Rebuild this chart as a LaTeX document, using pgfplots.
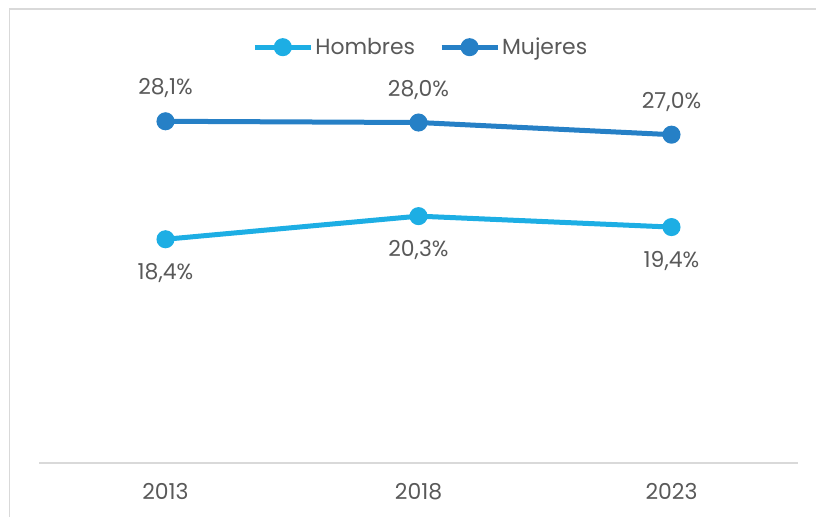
\documentclass[border=0pt]{standalone}
\usepackage{fontspec}
\setmainfont{Poppins}
\usepackage{pgfplots}
\pgfplotsset{compat=1.18}
\definecolor{hombres}{HTML}{1DAEE4}
\definecolor{mujeres}{HTML}{2680C6}
\definecolor{txt}{HTML}{595959}
\definecolor{grid}{HTML}{D9D9D9}
\begin{document}
\begin{tikzpicture}[x=1bp,y=1bp]
\useasboundingbox (-39,-54) rectangle (777,463);
\draw[grid,line width=1.5bp] (-29.5,-54) -- (-29.5,454) -- (777,454);
\begin{axis}[
  at={(0,0)}, anchor=south west,
  scale only axis, width=759bp, height=425.6bp,
  xmin=-0.5, xmax=2.5, ymin=0, ymax=35,
  axis y line=none,
  axis x line*=bottom,
  x axis line style={grid, line width=1.5bp, -},
  xtick={0,1,2}, xticklabels={2013,2018,2023},
  major tick length=0pt,
  xticklabel style={font=\fontsize{22}{26}\selectfont, text=txt, yshift=-17bp},
  clip=false,
  point meta=explicit symbolic,
  nodes near coords,
  every node near coord/.append style={font=\fontsize{22}{26}\selectfont, text=txt, anchor=center},
  legend columns=2,
  legend style={draw=none, fill=none, at={(0.503,0.977)}, anchor=center, font=\fontsize{22}{26}\selectfont, text=txt,
    /tikz/every even column/.append style={column sep=22bp}},
  legend cell align=left,
  legend image code/.code={\draw[mark repeat=2,mark phase=2,#1] plot coordinates {(0bp,0bp) (28bp,0bp) (56bp,0bp)};},
]
\addplot[hombres, line width=5bp, mark=*, mark size=6.5bp, mark options={draw=none, fill=hombres},
  every node near coord/.append style={yshift=-34bp}]
  coordinates {(0,18.4) [18,4\%] (1,20.3) [20,3\%] (2,19.4) [19,4\%]};
\addlegendentry{Hombres}
\addplot[mujeres, line width=5bp, mark=*, mark size=6.5bp, mark options={draw=none, fill=mujeres},
  every node near coord/.append style={yshift=33bp}]
  coordinates {(0,28.1) [28,1\%] (1,28.0) [28,0\%] (2,27.0) [27,0\%]};
\addlegendentry{Mujeres}
\end{axis}
\end{tikzpicture}
\end{document}
